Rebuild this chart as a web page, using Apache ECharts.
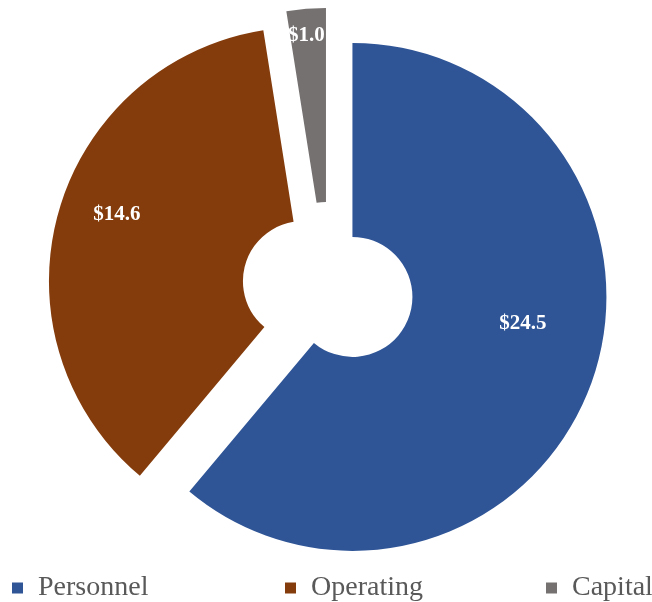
<!DOCTYPE html>
<html>
<head>
<meta charset="utf-8">
<script src="https://cdn.jsdelivr.net/npm/echarts@6/dist/echarts.min.js"></script>
<style>
  html, body { margin: 0; padding: 0; background: #fff; }
  #piechart { width: 652px; height: 602px; }
</style>
</head>
<body>
<div id="piechart"></div>
<script>
var categories = ['Personnel', 'Operating', 'Capital'];
var values = [24.5, 14.6, 1.0];
var colors = ['#2F5597', '#843C0C', '#767171'];

// label nudges (like Excel's label placement), per slice
var labelDx = [20, -32, -7];
var labelDy = [-28, -24, -67];
var legendLeft = [7, 280, 541];

var dom = document.getElementById("piechart");
var myChart = echarts.init(dom);

var data = [];
for (var i = 0; i < categories.length; i++) {
    data.push({
        value: values[i],
        name: categories[i],
        selected: true,
        itemStyle: {color: colors[i]}
    });
}

var legends = [];
for (var j = 0; j < categories.length; j++) {
    legends.push({
        bottom: -5,
        left: legendLeft[j],
        itemWidth: 11,
        itemHeight: 11,
        icon: 'rect',
        selectedMode: false,
        textStyle: {
            fontFamily: 'Liberation Serif',
            fontSize: 28,
            color: '#595959',
            padding: [0, 0, 0, 10]
        },
        data: [categories[j]]
    });
}

var option = {
    animation: false,
    legend: legends,
    series: [
        {
            name: 'Budget',
            type: 'pie',
            center: [328, 288],
            radius: [60, 254],
            startAngle: 90,
            selectedMode: 'multiple',
            selectedOffset: 26,
            emphasis: {disabled: true},
            label: {
                show: true,
                position: 'inside',
                formatter: function (p) { return '$' + p.value.toFixed(1); },
                color: '#fff',
                fontFamily: 'Liberation Serif',
                fontWeight: 'bold',
                fontSize: 21
            },
            labelLayout: function (p) {
                return {dx: labelDx[p.dataIndex], dy: labelDy[p.dataIndex]};
            },
            labelLine: {show: false},
            data: data
        }
    ]
};
myChart.setOption(option, true);
</script>
</body>
</html>
